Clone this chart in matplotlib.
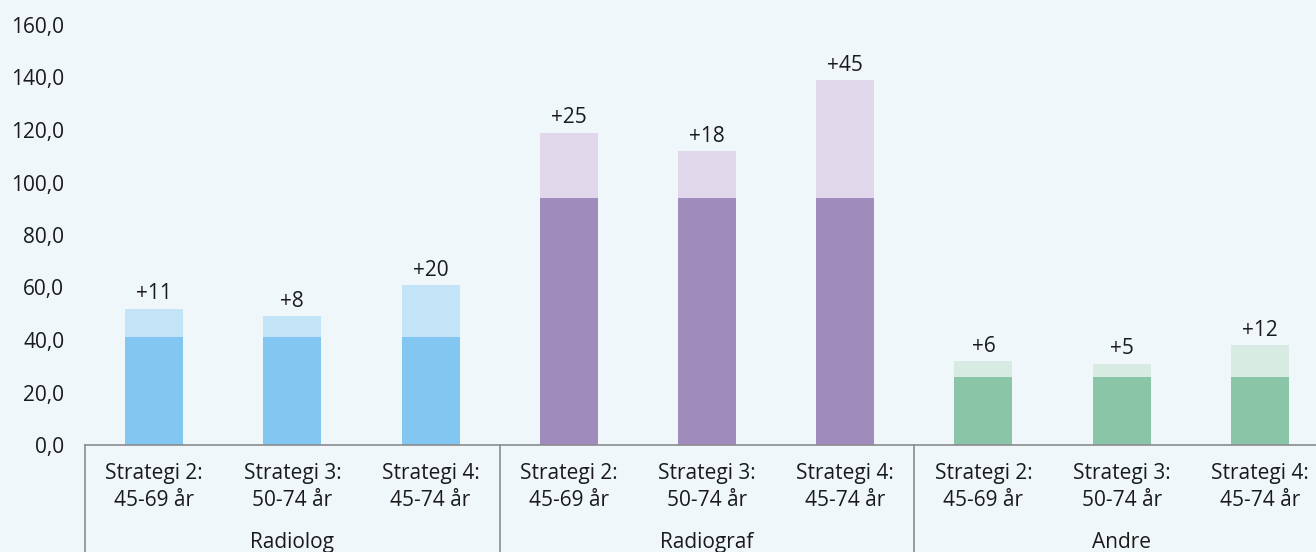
import numpy as np
import matplotlib.pyplot as plt
from matplotlib.transforms import blended_transform_factory

plt.rcParams['font.family'] = ['Open Sans', 'DejaVu Sans']

# Data
groups = ['Radiolog', 'Radiograf', 'Andre']
strategies = ['Strategi 2:\n45-69 år', 'Strategi 3:\n50-74 år', 'Strategi 4:\n45-74 år']
base = [41, 41, 41, 94, 94, 94, 26, 26, 26]
increase = [11, 8, 20, 25, 18, 45, 6, 5, 12]

base_colors = ['#82c6f2', '#a08bbd', '#8ac5a8']
inc_colors = ['#c3e3f7', '#e0d8ea', '#d8ebe2']
bg = '#f0f7fb'

fig = plt.figure(figsize=(13.16, 5.52), dpi=100, facecolor=bg)
ax = fig.add_axes([85 / 1316, 107 / 552, 1244 / 1316, 420 / 552], facecolor=bg)

x = np.arange(len(base))
bc = [base_colors[i // 3] for i in x]
ic = [inc_colors[i // 3] for i in x]
ax.bar(x, base, width=0.42, color=bc)
ax.bar(x, increase, width=0.42, bottom=base, color=ic)

for xi, b, inc in zip(x, base, increase):
    ax.annotate(f'+{inc}', (xi, b + inc), xytext=(0, 3), textcoords='offset points',
                ha='center', va='bottom', fontsize=15, color='#1a1a1a')

ax.set_xlim(-0.5, len(base) - 0.5)
ax.set_ylim(0, 160)
ax.set_yticks(np.arange(0, 161, 20))
ax.set_yticklabels([f'{v:.1f}'.replace('.', ',') for v in np.arange(0, 161, 20)])
ax.set_xticks(x)
ax.set_xticklabels(strategies * 3, linespacing=1.4)
ax.tick_params(axis='both', length=0, labelsize=15, colors='#1a1a1a')
ax.tick_params(axis='x', pad=13)
ax.tick_params(axis='y', pad=15)

for s in ['top', 'right', 'left']:
    ax.spines[s].set_visible(False)
ax.spines['bottom'].set_color('#8c8c8c')
ax.spines['bottom'].set_linewidth(1.2)

# group separators and group names below the axis
trans = blended_transform_factory(ax.transData, ax.transAxes)
for k in range(len(groups) + 1):
    ax.plot([k * 3 - 0.5, k * 3 - 0.5], [0, -0.3], color='#8c8c8c', lw=1.2,
            transform=trans, clip_on=False)
for k, g in enumerate(groups):
    ax.text(k * 3 + 1, -0.233, g, transform=trans, ha='center', va='center',
            fontsize=15, color='#1a1a1a')

fig.savefig('out.png', dpi=100, facecolor=bg)
